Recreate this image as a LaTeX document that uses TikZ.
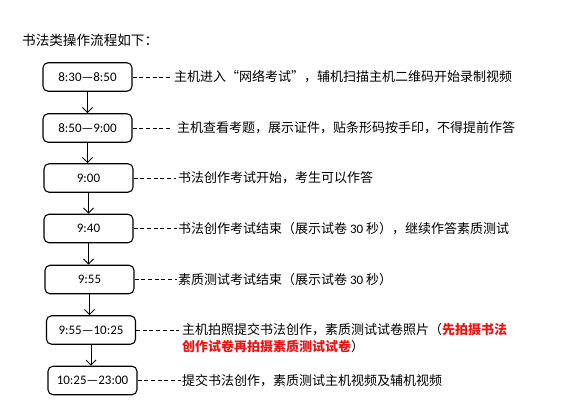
\documentclass[tikz,border=0pt]{standalone}
\usepackage{fontspec}
\setmainfont{Carlito}
\newfontfamily\cjk{Noto Sans CJK SC}
\newfontfamily\latn{Carlito}
\usetikzlibrary{arrows.meta}
\definecolor{warnred}{RGB}{235,20,20}
\begin{document}
\begin{tikzpicture}[x=1pt,y=-1pt,
  tbox/.style={draw, line width=1.1pt, rounded corners=5pt, minimum width=89pt,
    minimum height=28.5pt, inner sep=0pt, font=\fontsize{13}{15}\selectfont},
  desc/.style={anchor=west, inner sep=0pt, font=\cjk\fontsize{13}{17}\selectfont},
  flow/.style={-{Straight Barb[length=5pt,width=10pt]}, line width=1pt},
  lead/.style={dash pattern=on 4pt off 2.7pt, line width=1pt}]
\path[use as bounding box] (0,0) rectangle (581,402);

\node[anchor=west, inner sep=0pt, font=\cjk\fontsize{13.6}{16}\selectfont] (title) at (22,40) {书法类操作流程如下：};

\node[tbox] (b1) at (87.5,77) {8:30—8:50};
\node[tbox] (b2) at (87.5,128) {8:50—9:00};
\node[tbox] (b3) at (88.5,178) {9:00};
\node[tbox] (b4) at (88.5,228.5) {9:40};
\node[tbox] (b5) at (89.5,279.5) {9:55};
\node[tbox] (b6) at (91,330) {9:55—10:25};
\node[tbox] (b7) at (92.5,380.5) {10:25—23:00};

\node[desc] (t1) at (174,77) {主机进入“网络考试”，辅机扫描主机二维码开始录制视频};
\node[desc] (t2) at (177,128) {主机查看考题，展示证件，贴条形码按手印，不得提前作答};
\node[desc] (t3) at (178,178) {书法创作考试开始，考生可以作答};
\node[desc] (t4) at (178,228.5) {书法创作考试结束（展示试卷 {\latn 30} 秒），继续作答素质测试};
\node[desc] (t5) at (178,279.5) {素质测试考试结束（展示试卷 {\latn 30} 秒）};
\node[desc] (t6) at (182,330) {主机拍照提交书法创作，素质测试试卷照片（\textcolor{warnred}{\bfseries 先拍摄书法}};
\node[desc] (t6b) at (182,347) {\textcolor{warnred}{\bfseries 创作试卷再拍摄素质测试试卷}）};
\node[desc] (t7) at (182,380.5) {提交书法创作，素质测试主机视频及辅机视频};

\foreach \a/\b in {b1/b2,b2/b3,b3/b4,b4/b5,b5/b6,b6/b7}
  \draw[flow] (\a.south) -- (\a.south |- \b.north);

\draw[lead] (b1.east) -- ([xshift=-2pt]t1.west);
\draw[lead] (b2.east) -- ([xshift=-5pt]t2.west);
\draw[lead] (b3.east) -- ([xshift=-2pt]t3.west);
\draw[lead] (b4.east) -- ([xshift=-1pt]t4.west);
\draw[lead] (b5.east) -- ([xshift=-1pt]t5.west);
\draw[lead] (b6.east) -- ([xshift=-3pt]t6.west);
\draw[lead] (b7.east) -- ([xshift=-1pt]t7.west);
\end{tikzpicture}
\end{document}
